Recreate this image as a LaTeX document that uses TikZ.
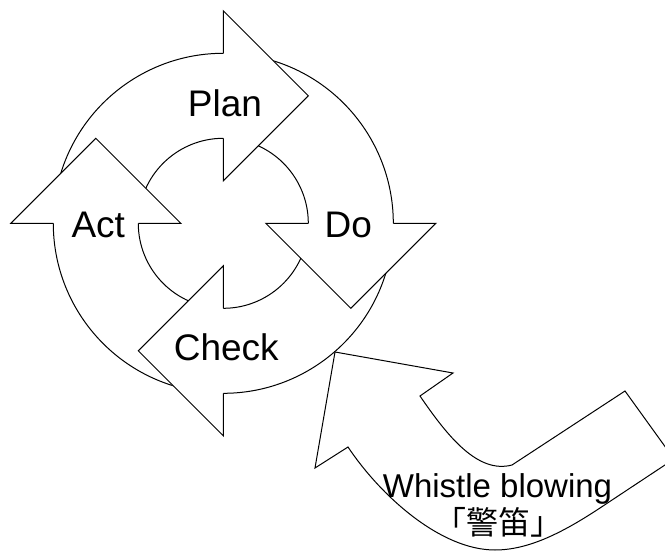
\documentclass[tikz,border=0pt]{standalone}
\usepackage{fontspec}
\setmainfont{Liberation Sans}
\newfontfamily\cjk{Noto Sans CJK TC}
\begin{document}
\begin{tikzpicture}[x=1pt,y=-1pt,
  arrowline/.style={line width=1pt, line join=miter},
  cyclelabel/.style={font=\fontsize{37}{41}\selectfont, anchor=base},
]
\useasboundingbox (0,0) rectangle (665,551);
\clip (0,0) rectangle (665,551);
\fill[white] (0,0) rectangle (665,551);
\coordinate (C) at (223.3,223.3);

% ring segments of the four cycle arrows (tails hide under the previous head)
\foreach \r in {0,-90,-180,-270}{
  \begin{scope}[shift={(C)}, rotate=\r]
    \fill[white] (190:85) -- (190:170) arc[start angle=190,end angle=275,radius=170]
      -- (275:85) arc[start angle=275,end angle=190,radius=85] -- cycle;
    \draw[arrowline] (190:170) arc[start angle=190,end angle=275,radius=170];
    \draw[arrowline] (190:85) arc[start angle=190,end angle=275,radius=85];
  \end{scope}
}
% arrow heads on top
\foreach \r in {0,-90,-180,-270}{
  \begin{scope}[shift={(C)}, rotate=\r]
    \fill[white] (270:212.5) -- (85,-127.5) -- (270:42.5) -- cycle;
    \draw[arrowline] (270:170) -- (270:212.5) -- (85,-127.5) -- (270:42.5) -- (270:85);
  \end{scope}
}

\node[cyclelabel] (plan) at (225,116.7) {Plan};
\node[cyclelabel] (act) at (98.3,237.7) {Act};
\node[cyclelabel] (do) at (348.3,237.7) {Do};
\node[cyclelabel] (check) at (226.3,360.7) {Check};

% bent arrow pointing into the cycle
\filldraw[arrowline, fill=white]
  (335,352) -- (453,373) -- (420,396)
  .. controls (448,437) and (478,474) .. (512,465)
  -- (625,391) -- (674,459) -- (600,508)
  .. controls (565,531) and (530,550) .. (495,550)
  .. controls (440,550) and (380,495) .. (348,447)
  -- (315,468) -- cycle;

\node[font=\fontsize{33}{38}\selectfont, anchor=base] (whistle) at (497.5,497) {Whistle blowing};
\node[font=\cjk\fontsize{32}{36}\selectfont] (keiteki) at (498,522.5) {「警笛」};
\end{tikzpicture}
\end{document}
